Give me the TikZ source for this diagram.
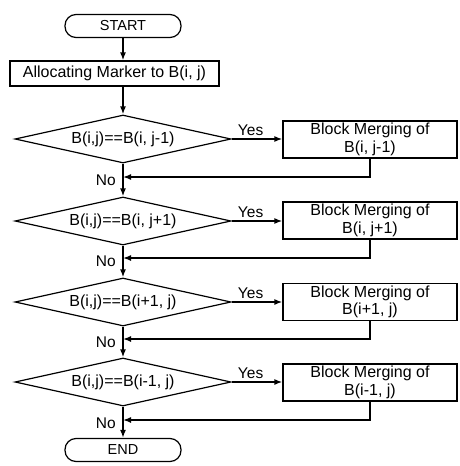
\documentclass[tikz,border=0pt]{standalone}
\usepackage{fontspec}
\newfontfamily\arialf{Liberation Sans}
\usetikzlibrary{shapes.geometric,arrows.meta}
\begin{document}
\begin{tikzpicture}[x=1pt,y=-1pt,
  every node/.style={font=\arialf\fontsize{16}{17.5}\selectfont, inner sep=0pt},
  terminal/.style={draw, line width=1.2pt, rounded corners=11pt, minimum width=116pt, minimum height=23pt},
  procbox/.style={draw, line width=1.2pt, minimum height=25pt, align=center},
  decision/.style={draw, line width=1.2pt, diamond, aspect=4.5, minimum width=216pt, minimum height=48pt},
  mergebox/.style={draw, line width=1.2pt, minimum width=174pt, minimum height=37pt, align=center},
  flow/.style={line width=1.5pt, -{Latex[length=8pt,width=6pt]}},
  lbl/.style={font=\arialf\fontsize{15.5}{17}\selectfont}
]
\useasboundingbox (0,0) rectangle (460,466);
\node[terminal, font=\arialf\fontsize{14.5}{17}\selectfont] (start) at (123,26) {START};
\node[procbox, minimum width=209pt] (alloc) at (114.5,73.5) {Allocating Marker to B(i, j)};
\node[decision] (d1) at (123,139) {B(i,j)==B(i, j-1)};
\node[decision] (d2) at (123,221) {B(i,j)==B(i, j+1)};
\node[decision] (d3) at (123,302) {B(i,j)==B(i+1, j)};
\node[decision] (d4) at (123,382) {B(i,j)==B(i-1, j)};
\node[mergebox] (b1) at (370,139.5) {Block Merging of\\B(i, j-1)};
\node[mergebox] (b2) at (370,220.5) {Block Merging of\\B(i, j+1)};
\node[mergebox] (b3) at (370,302) {Block Merging of\\B(i+1, j)};
\node[mergebox] (b4) at (370,382.5) {Block Merging of\\B(i-1, j)};
\node[terminal, font=\arialf\fontsize{14.5}{17}\selectfont] (end) at (123,450) {END};

\draw[flow] (start.south) -- (start.south |- alloc.north);
\draw[flow] (d1.north |- alloc.south) -- (d1.north);

\coordinate (r1) at (123,177);
\coordinate (r2) at (123,258);
\coordinate (r3) at (123,339);
\coordinate (r4) at (123,420);

\draw[flow] (d1.south) -- (d2.north);
\draw[flow] (d2.south) -- (d3.north);
\draw[flow] (d3.south) -- (d4.north);
\draw[flow] (d4.south) -- (end.north);

\foreach \i in {1,2,3,4}{
  \draw[flow] (d\i.east) -- (b\i.west |- d\i.east);
  \draw[flow] (b\i.south) |- (r\i);
  \node[lbl, anchor=base] at ([xshift=19pt,yshift=4pt]d\i.east) {Yes};
  \node[lbl, anchor=base east] at ([xshift=-7pt,yshift=-8pt]r\i) {No};
}
\end{tikzpicture}
\end{document}
